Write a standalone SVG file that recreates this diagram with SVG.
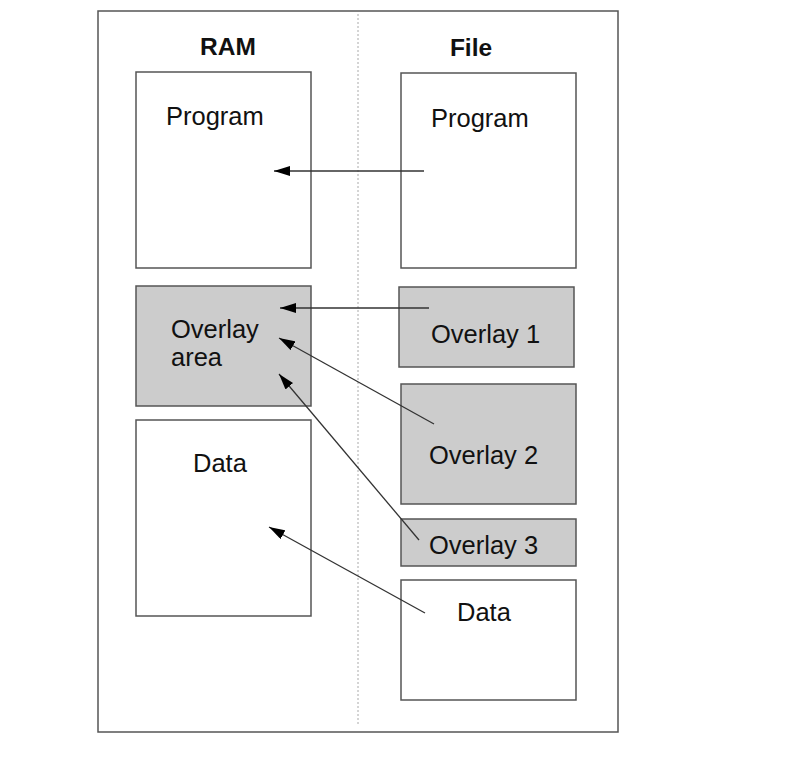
<svg xmlns="http://www.w3.org/2000/svg" width="788" height="757" viewBox="0 0 788 757">
<style>
.box{fill:#ffffff;stroke:#555555;stroke-width:1.5}
.gray{fill:#cccccc;stroke:#555555;stroke-width:1.5}
.t{font-family:"Liberation Sans",Arial,sans-serif;font-size:25.5px;fill:#111111}
.h{font-family:"Liberation Sans",Arial,sans-serif;font-size:24.5px;font-weight:bold;fill:#111111}
.c{stroke:#333333;stroke-width:1.3;fill:none;marker-end:url(#ah)}
</style>
<defs>
<marker id="ah" viewBox="0 0 16 10" refX="16" refY="5" markerWidth="16" markerHeight="10" markerUnits="userSpaceOnUse" orient="auto">
<path d="M0,0 L16,5 L0,10 Z" fill="#000000"/>
</marker>
</defs>
<rect width="788" height="757" fill="#ffffff"/>
<g id="frame">
<rect x="98" y="11" width="520" height="721" fill="none" stroke="#555555" stroke-width="1.5"/>
<line x1="358" y1="14" x2="358" y2="724" stroke="#aaaaaa" stroke-width="1" stroke-dasharray="2,2"/>
<text class="h" x="228" y="55" text-anchor="middle">RAM</text>
<text class="h" x="471" y="56" text-anchor="middle">File</text>
</g>
<g id="ram-program">
<rect class="box" x="136" y="72" width="175" height="196"/>
<text class="t" x="166" y="125">Program</text>
</g>
<g id="ram-overlay">
<rect class="gray" x="136" y="286" width="175" height="120"/>
<text class="t" x="171" y="338">Overlay</text>
<text class="t" x="171" y="366">area</text>
</g>
<g id="ram-data">
<rect class="box" x="136" y="420" width="175" height="196"/>
<text class="t" x="193" y="472">Data</text>
</g>
<g id="file-program">
<rect class="box" x="401" y="73" width="175" height="195"/>
<text class="t" x="431" y="127">Program</text>
</g>
<g id="file-overlay1">
<rect class="gray" x="399" y="287" width="175" height="80"/>
<text class="t" x="431" y="343">Overlay 1</text>
</g>
<g id="file-overlay2">
<rect class="gray" x="401" y="384" width="175" height="120"/>
<text class="t" x="429" y="464">Overlay 2</text>
</g>
<g id="file-overlay3">
<rect class="gray" x="401" y="519" width="175" height="47"/>
<text class="t" x="429" y="554">Overlay 3</text>
</g>
<g id="file-data">
<rect class="box" x="401" y="580" width="175" height="120"/>
<text class="t" x="457" y="621">Data</text>
</g>
<g id="connectors">
<line class="c" x1="424" y1="171" x2="274" y2="171"/>
<line class="c" x1="429" y1="308" x2="280" y2="308"/>
<line class="c" x1="434" y1="424" x2="279" y2="338"/>
<line class="c" x1="419" y1="540" x2="279" y2="374"/>
<line class="c" x1="425" y1="613" x2="269" y2="527"/>
</g>
</svg>
